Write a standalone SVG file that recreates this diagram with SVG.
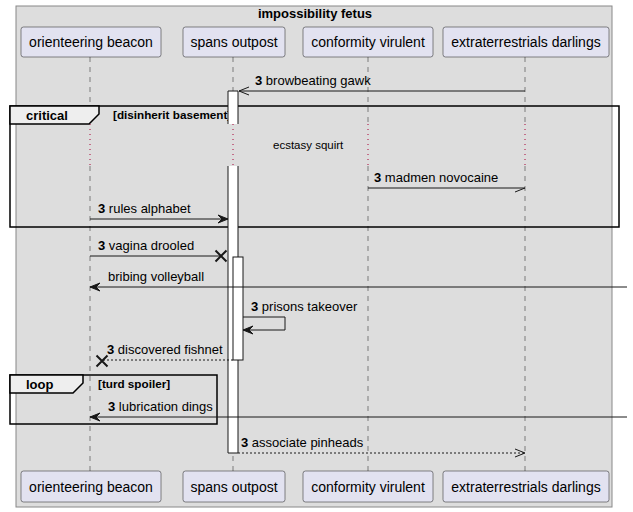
<svg xmlns="http://www.w3.org/2000/svg" width="633" height="512" viewBox="0 0 633 512">
<defs>
<style>
text{font-family:"Liberation Sans",Arial,sans-serif;fill:#000}
.pbox{fill:#E2E2F0;stroke:#181818;stroke-width:0.5}
.pname{font-size:14px;text-anchor:middle}
.life{stroke:#181818;stroke-width:0.5;stroke-dasharray:5 5;fill:none}
.delay{stroke:#A80036;stroke-width:1;stroke-dasharray:1 4;fill:none}
.msg{stroke:#181818;stroke-width:1;fill:none}
.dash{stroke-dasharray:2 2}
.mtext{font-size:13px}
.act{fill:#fff;stroke:#181818;stroke-width:1}
.frame{fill:none;stroke:#000;stroke-width:1.5}
.tab{fill:#EEEEEE;stroke:#000;stroke-width:1.5}
.flabel{font-size:13px;font-weight:bold}
.guard{font-size:11.7px;font-weight:bold}
.xmark{stroke:#181818;stroke-width:2;fill:none}
</style>
<marker id="filled" markerUnits="userSpaceOnUse" markerWidth="12" markerHeight="10" refX="10" refY="4" orient="auto" overflow="visible">
<path d="M0,0 L10,4 L0,8 L4,4 Z" fill="#181818" stroke="#181818" stroke-width="1"/>
</marker>
<marker id="open" markerUnits="userSpaceOnUse" markerWidth="12" markerHeight="10" refX="10" refY="4" orient="auto" overflow="visible">
<path d="M0,0 L10,4 L0,8" fill="none" stroke="#181818" stroke-width="1"/>
</marker>
<marker id="half" markerUnits="userSpaceOnUse" markerWidth="12" markerHeight="10" refX="10" refY="4" orient="auto" overflow="visible">
<path d="M0,8 L10,4" fill="none" stroke="#181818" stroke-width="1"/>
</marker>
</defs>

<rect x="16" y="6" width="596" height="501" fill="#DDDDDD" stroke="#888888" stroke-width="1"/>
<text x="315" y="18" font-size="13" font-weight="bold" text-anchor="middle">impossibility fetus</text>

<g id="lifelines">
<path class="life" d="M90,57 V124 M90,166 V471 M233,57 V124 M233,166 V471 M368,57 V124 M368,166 V471 M525,57 V124 M525,166 V471"/>
<path class="delay" d="M90,124 V166 M233,124 V166 M368,124 V166 M525,124 V166"/>
</g>

<g id="p-orienteering-beacon">
<rect class="pbox" x="21" y="27" width="140" height="30" rx="2.5"/>
<text class="pname" x="91" y="47">orienteering beacon</text>
<rect class="pbox" x="21" y="471" width="140" height="31" rx="2.5"/>
<text class="pname" x="91" y="492">orienteering beacon</text>
</g>
<g id="p-spans-outpost">
<rect class="pbox" x="183" y="27" width="102" height="30" rx="2.5"/>
<text class="pname" x="234" y="47">spans outpost</text>
<rect class="pbox" x="183" y="471" width="102" height="31" rx="2.5"/>
<text class="pname" x="234" y="492">spans outpost</text>
</g>
<g id="p-conformity-virulent">
<rect class="pbox" x="303" y="27" width="130" height="30" rx="2.5"/>
<text class="pname" x="368" y="47">conformity virulent</text>
<rect class="pbox" x="303" y="471" width="130" height="31" rx="2.5"/>
<text class="pname" x="368" y="492">conformity virulent</text>
</g>
<g id="p-extraterrestrials-darlings">
<rect class="pbox" x="443" y="27" width="166" height="30" rx="2.5"/>
<text class="pname" x="526" y="47">extraterrestrials darlings</text>
<rect class="pbox" x="443" y="471" width="166" height="31" rx="2.5"/>
<text class="pname" x="526" y="492">extraterrestrials darlings</text>
</g>

<g id="frame-critical">
<rect class="frame" x="10" y="106" width="609" height="121"/>
<path class="tab" d="M10,106 H99 V114 L89,124 H10 Z"/>
<text class="flabel" x="26" y="120">critical</text>
<text class="guard" x="113" y="119">[disinherit basement]</text>
</g>
<g id="frame-loop">
<rect class="frame" x="10" y="375" width="207" height="49"/>
<path class="tab" d="M10,375 H83 V383 L73,393 H10 Z"/>
<text class="flabel" x="26" y="389">loop</text>
<text class="guard" x="98" y="388">[turd spoiler]</text>
</g>

<g id="activations">
<path class="act" d="M228,124 V91 H238 V124"/>
<path class="act" d="M228,166 V453 H238 V166"/>
<rect class="act" x="233" y="257" width="10" height="103"/>
</g>

<g id="connectors">
<line class="msg" x1="525" y1="91" x2="239" y2="91" marker-end="url(#open)"/>
<text class="mtext" x="255" y="85"><tspan font-weight="bold">3</tspan> browbeating gawk</text>

<text x="273" y="149" font-size="11.5">ecstasy squirt</text>

<line class="msg" x1="368" y1="188" x2="525" y2="188" marker-end="url(#half)"/>
<text class="mtext" x="374" y="182"><tspan font-weight="bold">3</tspan> madmen novocaine</text>

<line class="msg" x1="90" y1="219" x2="228" y2="219" marker-end="url(#filled)"/>
<text class="mtext" x="98" y="213"><tspan font-weight="bold">3</tspan> rules alphabet</text>

<line class="msg" x1="90" y1="256" x2="221" y2="256"/>
<path class="xmark" d="M215.5,250.5 L226.5,261.5 M226.5,250.5 L215.5,261.5"/>
<text class="mtext" x="98" y="250"><tspan font-weight="bold">3</tspan> vagina drooled</text>

<line class="msg" x1="627" y1="287" x2="90" y2="287" marker-end="url(#filled)"/>
<text class="mtext" x="108" y="281">bribing volleyball</text>

<path class="msg" d="M243,317 H285 V330 H243" marker-end="url(#filled)"/>
<text class="mtext" x="251" y="311"><tspan font-weight="bold">3</tspan> prisons takeover</text>

<line class="msg dash" x1="233" y1="360" x2="102" y2="360"/>
<path class="xmark" d="M96.5,355.5 L107.5,366.5 M107.5,355.5 L96.5,366.5"/>
<text class="mtext" x="107" y="354"><tspan font-weight="bold">3</tspan> discovered fishnet</text>

<line class="msg" x1="627" y1="417" x2="90" y2="417" marker-end="url(#filled)"/>
<text class="mtext" x="108" y="411"><tspan font-weight="bold">3</tspan> lubrication dings</text>

<line class="msg dash" x1="238" y1="453" x2="525" y2="453" marker-end="url(#open)"/>
<text class="mtext" x="241" y="447"><tspan font-weight="bold">3</tspan> associate pinheads</text>
</g>
</svg>
